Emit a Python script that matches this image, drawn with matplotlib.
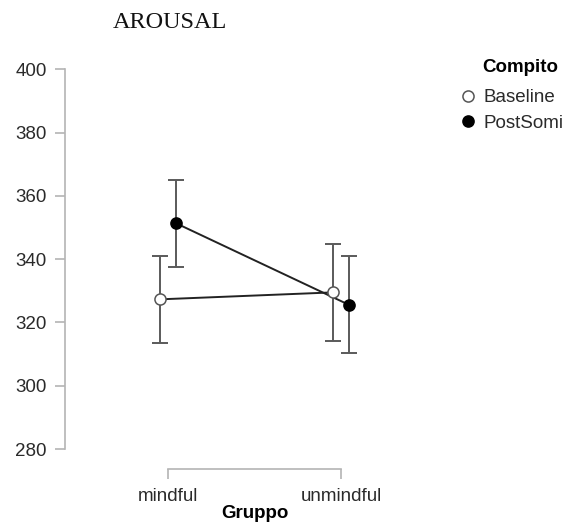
import matplotlib.pyplot as plt
import numpy as np
from matplotlib.lines import Line2D

# values
groups = ["mindful", "unmindful"]
tasks = ["Baseline", "PostSomi"]
means_baseline = [327.3, 329.5]
lower_baseline = [313.5, 314.1]
upper_baseline = [340.9, 344.8]
means_postsomi = [351.3, 325.5]
lower_postsomi = [337.4, 310.2]
upper_postsomi = [365.0, 340.9]
y_ticks = [280, 300, 320, 340, 360, 380, 400]

plt.rcParams["font.family"] = ["Liberation Sans", "DejaVu Sans"]

fig = plt.figure(figsize=(5.72, 5.22), dpi=100)
ax = fig.add_axes([65 / 572, 1 - 469 / 522, 380 / 572, 400 / 522])

x = np.arange(len(groups))
dodge = 0.048
spine_col = "#b4b4b4"
text_col = "#2a2a2a"

series = [
    (means_baseline, lower_baseline, upper_baseline, -dodge, "white", "#555555"),
    (means_postsomi, lower_postsomi, upper_postsomi, dodge, "black", "black"),
]
for means, lo, hi, off, face, edge in series:
    m = np.array(means)
    yerr = [m - np.array(lo), np.array(hi) - m]
    ax.errorbar(x + off, m, yerr=yerr, fmt="none", ecolor="#5a5a5a",
                elinewidth=1.4, capsize=6, capthick=1.4, zorder=1, clip_on=False)
    ax.plot(x + off, m, color="#222222", lw=1.4, zorder=2, clip_on=False)
    ax.plot(x + off, m, "o", ms=8, mfc=face, mec=edge, mew=1.1, zorder=3,
            clip_on=False)

# range-frame style axes
ax.set_xlim(-0.595, 1.6)
ax.set_ylim(273.7, 273.7 + 400 / 3.165)
for s in ["top", "right"]:
    ax.spines[s].set_visible(False)
ax.spines["left"].set_bounds(280, 400)
ax.spines["bottom"].set_bounds(0, 1)
for s in ["left", "bottom"]:
    ax.spines[s].set_color(spine_col)
    ax.spines[s].set_linewidth(1.2)

ax.set_yticks(y_ticks)
ax.set_xticks(x)
ax.set_xticklabels(groups)
ax.tick_params(axis="both", colors=spine_col, length=7, width=1.2,
               labelsize=13.5, labelcolor=text_col, pad=6)
ax.tick_params(axis="x", pad=7)
ax.set_xlabel("Gruppo", fontsize=13.5, fontweight="bold", color="black",
              labelpad=0)

fig.text(113 / 572, 1 - 23 / 522, "AROUSAL", family="Liberation Serif",
         fontsize=17.5, va="center", ha="left", color="#111111")

# legend title drawn on its own so it sits where the reference has it
fig.text(482 / 572, 1 - 67 / 522, "Compito", fontsize=13.5,
         fontweight="bold", va="center", ha="left", color="black")
handles = [
    Line2D([], [], ls="none", marker="o", ms=8, mfc="white", mec="#555555", mew=1.1),
    Line2D([], [], ls="none", marker="o", ms=8, mfc="black", mec="black", mew=1.1),
]
leg = fig.legend(handles, tasks, loc="upper left",
                 bbox_to_anchor=(451 / 572, 1 - 80 / 522), frameon=False,
                 fontsize=13.5, handlelength=0.8,
                 handletextpad=0.45, labelspacing=0.42, borderpad=0)
for t in leg.get_texts():
    t.set_color(text_col)

fig.savefig("out.png", dpi=100)
